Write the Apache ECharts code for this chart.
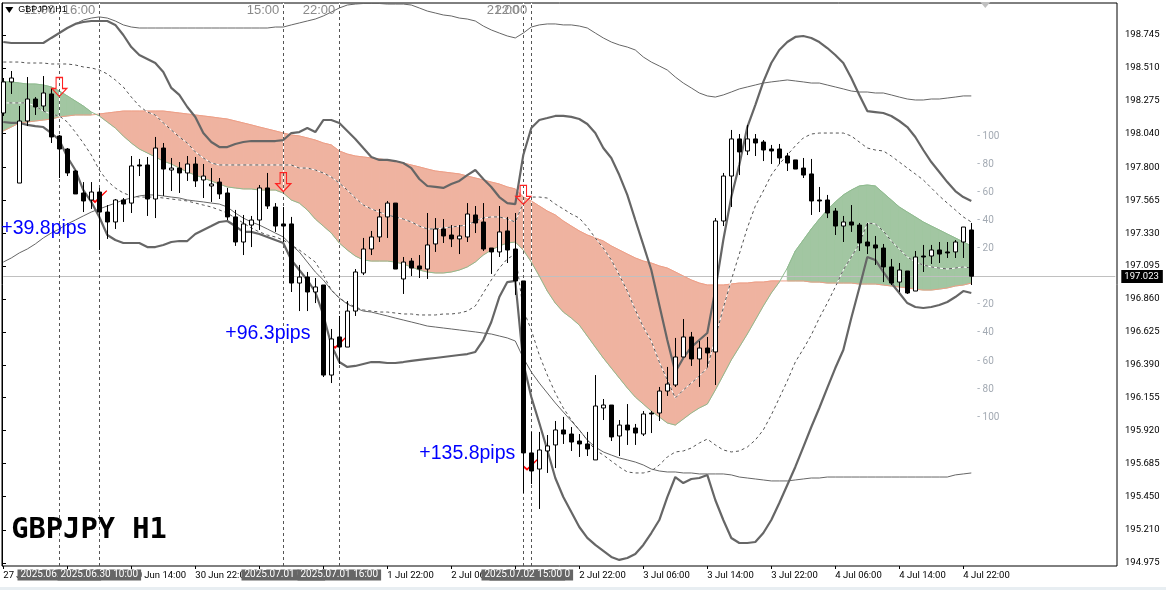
<!DOCTYPE html>
<html><head><meta charset="utf-8">
<style>html,body{margin:0;padding:0;background:linear-gradient(#fff 587px,#e8eef2 587px);}#c{width:1166px;height:590px}</style>
<script src="https://cdn.jsdelivr.net/npm/echarts@6/dist/echarts.min.js"></script>
</head><body><div id="c"></div>
<script>
const openP=[198.188,198.410,197.688,198.131,198.288,198.238,198.324,198.024,197.931,197.774,
197.617,197.567,197.624,197.481,197.410,197.567,197.545,197.817,197.817,197.574,
197.938,197.781,197.795,197.760,197.824,197.710,197.667,197.695,197.617,197.446,
197.267,197.388,197.424,197.653,197.517,197.396,197.396,196.974,197.017,196.910,
196.960,196.317,196.589,196.517,196.774,197.046,197.217,197.303,197.446,197.545,
197.003,197.131,197.096,197.074,197.253,197.360,197.317,197.289,197.303,197.460,
197.410,197.224,197.196,197.346,197.217,196.989,195.761,195.646,195.775,195.818,
195.925,195.896,195.846,195.825,195.711,196.082,196.103,195.882,195.960,195.939,
195.896,196.046,196.046,196.203,196.246,196.446,196.589,196.432,196.510,196.482,
197.417,197.738,198.003,197.917,198.003,197.981,197.931,197.931,197.881,197.853,
197.795,197.753,197.567,197.567,197.488,197.381,197.410,197.388,197.267,197.246,
197.224,197.089,196.981,197.060,196.917,197.167,197.167,197.210,197.196,197.196,
197.267,197.353];
const closeP=[198.410,198.438,198.131,198.288,198.231,198.331,198.017,197.931,197.760,197.610,
197.560,197.624,197.481,197.410,197.567,197.538,197.810,197.810,197.574,197.938,
197.788,197.795,197.760,197.824,197.703,197.738,197.681,197.610,197.446,197.267,
197.396,197.424,197.653,197.524,197.381,197.381,196.974,197.017,196.910,196.946,
196.317,196.575,196.517,196.774,197.053,197.217,197.303,197.446,197.545,197.074,
197.124,197.081,197.074,197.246,197.360,197.310,197.289,197.310,197.467,197.403,
197.217,197.196,197.339,197.210,196.989,195.761,195.632,195.782,195.811,195.925,
195.896,195.839,195.825,195.789,196.096,196.103,195.875,195.960,195.925,195.903,
196.039,196.039,196.203,196.253,196.446,196.589,196.432,196.510,196.475,197.417,
197.738,198.003,197.910,198.003,197.974,197.924,197.917,197.867,197.831,197.788,
197.745,197.560,197.560,197.474,197.381,197.410,197.388,197.260,197.239,197.224,
197.089,196.974,197.067,196.903,197.160,197.160,197.210,197.181,197.189,197.267,
197.374,197.023];
const lowP=[198.167,198.324,197.688,198.095,198.174,198.202,197.974,197.724,197.738,197.610,
197.481,197.503,197.210,197.289,197.360,197.410,197.474,197.738,197.453,197.438,
197.596,197.631,197.617,197.703,197.660,197.581,197.553,197.574,197.424,197.239,
197.174,197.231,197.353,197.503,197.339,197.267,196.910,196.774,196.774,196.831,
196.303,196.260,196.396,196.517,196.739,197.031,197.174,197.267,197.296,197.074,
196.896,197.024,197.010,197.003,197.196,197.260,197.231,197.181,197.267,197.331,
197.203,197.039,197.160,197.117,196.889,195.475,195.539,195.361,195.618,195.653,
195.825,195.775,195.732,195.739,195.711,195.996,195.846,195.739,195.818,195.818,
195.882,195.903,195.989,196.168,196.232,196.446,196.382,196.232,196.375,196.246,
197.381,197.517,197.745,197.888,197.881,197.845,197.824,197.824,197.774,197.788,
197.724,197.460,197.481,197.438,197.317,197.267,197.339,197.203,197.181,197.103,
196.981,196.960,196.910,196.896,196.917,197.053,197.110,197.117,197.153,197.153,
197.153,196.960];
const highP=[198.438,198.488,198.238,198.445,198.302,198.452,198.367,198.031,197.938,197.781,
197.695,197.695,197.653,197.531,197.574,197.581,197.881,197.860,197.874,198.017,
197.974,197.867,197.838,197.881,197.874,197.824,197.795,197.724,197.653,197.496,
197.460,197.453,197.674,197.760,197.545,197.517,197.446,197.103,197.053,197.010,
196.960,196.646,196.739,196.846,197.074,197.296,197.346,197.503,197.560,197.545,
197.160,197.153,197.174,197.474,197.438,197.431,197.388,197.388,197.545,197.524,
197.545,197.224,197.524,197.446,197.474,196.989,195.911,195.911,195.889,195.989,
196.018,195.946,195.896,195.911,196.317,196.146,196.103,195.996,196.110,195.968,
196.060,196.060,196.232,196.375,196.582,196.717,196.625,196.560,196.589,197.438,
197.760,198.067,198.038,198.103,198.038,197.995,197.960,197.967,197.903,197.853,
197.867,197.860,197.660,197.603,197.510,197.453,197.531,197.403,197.403,197.310,
197.253,197.146,197.117,197.060,197.203,197.246,197.246,197.267,197.267,197.281,
197.374,197.403];
const thickUpper=[198.695,198.688,198.688,198.688,198.688,198.688,198.724,198.759,198.795,198.824,
198.838,198.845,198.845,198.845,198.817,198.745,198.659,198.602,198.574,198.545,
198.481,198.367,198.317,198.231,198.160,198.045,197.981,197.945,197.945,197.967,
197.981,197.988,197.988,197.988,197.988,197.995,198.045,198.052,198.081,198.052,
198.138,198.138,198.117,198.060,198.003,197.938,197.874,197.853,197.853,197.845,
197.831,197.795,197.717,197.667,197.660,197.653,197.681,197.703,197.745,197.781,
197.717,197.660,197.588,197.545,197.538,197.888,198.081,198.138,198.152,198.167,
198.167,198.160,198.145,198.110,198.045,197.938,197.867,197.745,197.603,197.424,
197.246,197.067,196.817,196.567,196.339,196.439,196.517,196.567,196.617,196.924,
197.281,197.588,197.817,198.088,198.245,198.410,198.545,198.638,198.695,198.731,
198.738,198.724,198.695,198.652,198.602,198.545,198.438,198.317,198.202,198.195,
198.188,198.167,198.131,198.088,198.017,197.924,197.838,197.767,197.695,197.631,
197.588,197.560];
const thickLower=[198.124,198.117,198.117,198.103,198.095,198.088,198.045,197.995,197.874,197.781,
197.638,197.553,197.446,197.317,197.281,197.260,197.260,197.260,197.231,197.231,
197.246,197.267,197.274,197.274,197.324,197.353,197.381,197.410,197.417,197.381,
197.339,197.339,197.324,197.303,197.281,197.260,197.139,197.067,196.996,196.910,
196.746,196.532,196.410,196.375,196.382,196.396,196.410,196.410,196.403,196.403,
196.410,196.418,196.425,196.432,196.439,196.446,196.453,196.460,196.467,196.482,
196.567,196.696,196.874,196.981,196.989,196.403,196.160,195.975,195.782,195.582,
195.446,195.339,195.232,195.154,195.104,195.061,195.018,194.997,195.011,195.039,
195.104,195.189,195.282,195.446,195.589,195.546,195.575,195.582,195.604,195.425,
195.282,195.154,195.118,195.118,195.125,195.189,195.282,195.404,195.532,195.661,
195.803,195.946,196.082,196.225,196.367,196.496,196.724,196.939,197.160,197.139,
197.053,196.974,196.903,196.831,196.803,196.796,196.803,196.817,196.839,196.874,
196.917,196.903];
const thinUpper=[null,null,null,null,null,null,null,null,null,198.824,
198.852,198.866,198.874,198.866,198.845,198.817,198.802,198.795,198.795,198.795,
198.795,198.795,198.795,198.795,198.795,198.795,198.795,198.795,198.795,198.795,
198.795,198.795,198.795,198.795,198.802,198.802,198.817,198.831,198.845,198.859,
198.881,198.909,198.938,198.959,198.966,198.970,198.970,198.970,198.966,198.966,
198.966,198.959,198.938,198.916,198.902,198.888,198.881,198.866,198.859,198.845,
198.809,198.781,198.759,198.738,198.724,198.759,198.802,198.817,198.824,198.824,
198.817,198.817,198.809,198.795,198.759,198.724,198.695,198.674,198.659,198.638,
198.588,198.552,198.524,198.495,198.445,198.402,198.367,198.331,198.310,198.302,
198.317,198.338,198.360,198.374,198.388,198.402,198.410,198.417,198.424,198.417,
198.410,198.402,198.402,198.388,198.374,198.360,198.345,198.338,198.338,198.331,
198.331,198.317,198.302,198.288,198.281,198.281,198.288,198.288,198.295,198.302,
198.310,198.310];
const thinLower=[197.124,197.153,197.189,197.217,197.253,197.296,197.331,197.360,197.396,197.424,
197.453,197.481,197.503,197.524,197.545,197.567,197.581,197.596,197.603,197.603,
197.596,197.588,197.581,197.567,197.560,197.553,197.545,197.538,197.517,197.474,
197.438,197.410,197.388,197.360,197.331,197.303,197.246,197.196,197.124,197.053,
196.996,196.924,196.867,196.824,196.796,196.774,196.767,196.753,196.739,196.724,
196.710,196.696,196.682,196.667,196.660,196.653,196.646,196.639,196.632,196.625,
196.617,196.610,196.596,196.582,196.560,196.439,196.339,196.260,196.189,196.118,
196.053,195.989,195.925,195.853,195.803,195.768,195.746,195.725,195.711,195.696,
195.675,195.646,195.632,195.625,195.625,195.618,195.618,195.611,195.611,195.611,
195.611,195.604,195.589,195.582,195.575,195.568,195.561,195.561,195.561,195.568,
195.575,195.582,195.582,195.589,195.589,195.589,195.589,195.589,195.589,195.589,
195.589,195.589,195.589,195.589,195.589,195.589,195.589,195.589,195.589,195.604,
195.611,195.618];
const dashUpper=[198.552,198.552,198.552,198.545,198.545,198.545,198.538,198.538,198.538,198.531,
198.517,198.510,198.495,198.467,198.424,198.374,198.302,198.238,198.195,198.174,
198.117,198.067,198.017,197.974,197.910,197.867,197.831,197.817,197.817,197.817,
197.817,197.817,197.817,197.817,197.817,197.817,197.817,197.795,197.795,197.781,
197.760,197.731,197.688,197.638,197.581,197.531,197.503,197.481,197.460,197.446,
197.431,197.410,197.381,197.360,197.360,197.367,197.374,197.381,197.388,197.417,
197.438,197.446,197.446,197.431,197.410,197.545,197.588,197.588,197.581,197.538,
197.503,197.467,197.438,197.374,197.296,197.224,197.139,197.031,196.917,196.782,
196.660,196.560,196.410,196.282,196.153,196.210,196.260,196.310,196.367,196.582,
196.796,196.996,197.181,197.367,197.524,197.631,197.745,197.824,197.888,197.953,
198.010,198.038,198.045,198.045,198.045,198.045,198.024,197.981,197.938,197.924,
197.917,197.881,197.838,197.795,197.753,197.710,197.653,197.596,197.545,197.496,
197.446,197.410];
const dashLower=[198.260,198.260,198.260,198.260,198.238,198.202,198.181,198.167,198.124,198.052,
197.974,197.888,197.781,197.703,197.653,197.617,197.596,197.588,197.588,197.588,
197.581,197.574,197.567,197.560,197.545,197.531,197.517,197.496,197.474,197.438,
197.403,197.367,197.339,197.317,197.303,197.281,197.246,197.210,197.167,197.124,
197.031,196.924,196.867,196.831,196.803,196.782,196.774,196.767,196.767,196.760,
196.753,196.753,196.746,196.746,196.746,196.753,196.753,196.760,196.774,196.810,
196.903,196.996,197.081,197.146,197.181,196.782,196.639,196.460,196.317,196.189,
196.082,195.996,195.925,195.853,195.782,195.746,195.703,195.661,195.625,195.618,
195.618,195.632,195.675,195.732,195.768,195.775,195.796,195.832,195.860,195.818,
195.782,195.768,195.775,195.803,195.853,195.925,196.032,196.153,196.275,196.410,
196.503,196.603,196.724,196.831,196.946,197.067,197.160,197.253,197.403,197.396,
197.346,197.274,197.217,197.160,197.124,197.103,197.089,197.081,197.074,197.081,
197.089,197.081];
const spanS=[198.060,198.088,198.117,198.124,198.131,198.138,198.145,198.160,198.167,198.174,
198.174,198.174,198.181,198.188,198.195,198.202,198.202,198.202,198.202,198.202,
198.202,198.195,198.188,198.181,198.174,198.167,198.160,198.152,198.145,198.131,
198.117,198.103,198.088,198.074,198.060,198.045,198.031,198.024,198.010,197.995,
197.974,197.960,197.917,197.895,197.881,197.874,197.867,197.860,197.853,197.845,
197.831,197.817,197.803,197.788,197.774,197.767,197.760,197.753,197.738,197.724,
197.710,197.695,197.681,197.660,197.646,197.588,197.560,197.524,197.488,197.460,
197.417,197.381,197.346,197.317,197.296,197.274,197.239,197.210,197.181,197.153,
197.131,197.117,197.096,197.081,197.053,197.024,196.996,196.974,196.960,196.960,
196.960,196.967,196.974,196.974,196.981,196.981,196.989,196.989,196.989,196.989,
196.989,196.981,196.981,196.974,196.974,196.974,196.974,196.967,196.967,196.967,
196.960,196.953,196.946,196.939,196.931,196.924,196.924,196.931,196.939,196.953,
196.960,196.974];
const spanG=[198.410,198.410,198.402,198.395,198.395,198.388,198.374,198.345,198.310,198.274,
198.238,198.195,198.167,198.124,198.081,198.024,197.974,197.931,197.903,197.874,
197.845,197.824,197.795,197.767,197.745,197.724,197.703,197.681,197.660,197.653,
197.646,197.646,197.638,197.638,197.638,197.617,197.567,197.545,197.496,197.431,
197.381,197.331,197.260,197.210,197.167,197.139,197.131,197.131,197.131,197.124,
197.110,197.089,197.067,197.053,197.046,197.046,197.053,197.067,197.089,197.124,
197.174,197.210,197.239,197.260,197.267,197.210,197.124,197.024,196.917,196.831,
196.767,196.724,196.674,196.596,196.517,196.439,196.367,196.296,196.225,196.160,
196.110,196.060,196.018,195.975,195.960,196.003,196.046,196.082,196.110,196.210,
196.317,196.425,196.517,196.610,196.710,196.810,196.903,196.981,197.081,197.203,
197.281,197.360,197.431,197.496,197.553,197.603,197.638,197.667,197.674,197.667,
197.617,197.567,197.517,197.481,197.446,197.410,197.381,197.353,197.324,197.296,
197.267,197.239];

const tickLabels=['27 Jun 22:00','30 Jun 06:00','30 Jun 14:00','30 Jun 22:00','1 Jul 06:00','1 Jul 14:00','1 Jul 22:00','2 Jul 06:00','2 Jul 14:00','2 Jul 22:00','3 Jul 06:00','3 Jul 14:00','3 Jul 22:00','4 Jul 06:00','4 Jul 14:00','4 Jul 22:00'];
const priceTicks=[198.745,198.510,198.275,198.040,197.800,197.565,197.330,197.095,196.860,196.625,196.390,196.155,195.920,195.685,195.450,195.210,194.975];
const lastPrice=197.023;
const markerBars=[7,12,35,42,66,65];
const markerTimes=['2025.06.30 05:00','2025.06.30 10:00','2025.07.01 09:00','2025.07.01 16:00','2025.07.02 16:00','2025.07.02 15:00'];
const markerTop=['11:00','16:00','15:00','22:00','22:00','21:00'];
const arrowBars=[7,35,65];
const arrowPrices=[198.374,197.695,197.603];
const checkBars=[12,42,66];
const checkPrices=[197.590,196.550,195.680];
const pipBars=[0,28,52];
const pipPrices=[197.360,196.610,195.754];
const pipShift=[-2,-2,0];
const pipTexts=['+39.8pips','+96.3pips','+135.8pips'];
const scaleTexts=['- 100','- 80','- 60','- 40','- 20','- 20','- 40','- 60','- 80','- 100'];
const scalePrices=[198.021,197.821,197.621,197.421,197.221,196.821,196.621,196.415,196.215,196.015];
const yMin=194.9537,yMax=198.9735;

const gridBox={left:2,top:3,width:1115,height:563};
const cats=Array.from({length:140},(_,i)=>i%8===0&&i/8<tickLabels.length?tickLabels[i/8]:'');
const showTick=i=>i%8===0&&i/8<tickLabels.length;
const FONT='Roboto';

function line(data,color,width,dash,z){return {type:'line',xAxisIndex:1,yAxisIndex:1,data,showSymbol:false,silent:true,z:z||3,connectNulls:false,
  lineStyle:{color,width,type:dash||'solid'}};}
function textSeries(points,style,z){return {type:'scatter',xAxisIndex:1,yAxisIndex:1,clip:false,silent:true,z:z||20,symbolSize:0,
  itemStyle:{opacity:1},
  data:points.map(p=>({value:[p[0],p[1]],name:p[2],label:p[3]||{}})),
  label:Object.assign({show:true,opacity:1,position:'right',distance:0,formatter:d=>d.name},style)};}

const cloudRows=spanG.map((g,i)=>[i,g,spanS[i]]);
function renderCloud(params,api){
  const i=api.value(0); if(i>=spanG.length-1) return null;
  const g=spanG[i],s=spanS[i],g2=spanG[i+1],s2=spanS[i+1];
  let fill=null;
  if(g>s&&g2>s2) fill='#A2C6A2'; else if(g<s&&g2<s2) fill='#EFB3A0'; else return null;
  const pts=[api.coord([i,g]),api.coord([i+1,g2]),api.coord([i+1,s2]),api.coord([i,s])];
  return {type:'polygon',shape:{points:pts},style:{fill,stroke:fill,lineWidth:1}};
}

const option={
  animation:false,backgroundColor:'transparent',
  grid:[
    Object.assign({show:true,backgroundColor:'#fff',borderColor:'#000',borderWidth:1,z:0},gridBox),
    {left:3.3,top:3,width:1112,height:563}
  ],
  xAxis:[
    {gridIndex:0,type:'value',show:false,min:0,max:1},
    {gridIndex:1,type:'category',data:cats,boundaryGap:false,
     axisLine:{show:false},splitLine:{show:false},
     axisTick:{show:true,length:3,interval:(i)=>showTick(i),lineStyle:{color:'#000'}},
     axisLabel:{show:true,interval:(i)=>showTick(i),align:'left',margin:5,color:'#000',fontSize:9.5,fontFamily:FONT,hideOverlap:false}}
  ],
  yAxis:[
    {gridIndex:0,type:'value',position:'right',min:yMin,max:yMax,
     axisLine:{show:true,lineStyle:{color:'#000'}},splitLine:{show:false},
     axisTick:{show:true,length:4,inside:false,customValues:priceTicks,lineStyle:{color:'#000'}},
     axisLabel:{show:true,margin:8,color:'#000',fontSize:9.5,fontFamily:FONT,padding:[2,0,0,0],customValues:priceTicks,formatter:v=>v.toFixed(3)}},
    {gridIndex:1,type:'value',show:false,min:yMin,max:yMax}
  ],
  series:[
    {type:'custom',xAxisIndex:1,yAxisIndex:1,data:cloudRows,renderItem:renderCloud,encode:{x:0,y:[1,2]},silent:true,z:1,clip:true},
    line(spanS,'#EE9F87',1,null,2),
    line(spanG,'#8FBB8F',1,null,2),
    line(dashUpper,'#fff',1,null,2),
    line(dashLower,'#fff',1,null,2),
    line(thickUpper,'#666',2.2),
    line(thickLower,'#666',2.2),
    line(thinUpper,'#666',1),
    line(thinLower,'#666',1),
    line(dashUpper,'#555',1,[3,3]),
    line(dashLower,'#555',1,[3,3]),
    {type:'line',xAxisIndex:1,yAxisIndex:1,data:[],z:2,silent:true,
     markLine:{silent:true,symbol:'none',label:{show:false},z:2,lineStyle:{color:'#fff',width:1,type:'solid'},data:markerBars.map(b=>({xAxis:b}))}},
    {type:'line',xAxisIndex:1,yAxisIndex:1,data:[],z:3,silent:true,
     markLine:{silent:true,symbol:'none',label:{show:false},z:3,lineStyle:{color:'#555',width:1,type:[3,3]},data:markerBars.map(b=>({xAxis:b}))}},
    {type:'line',xAxisIndex:1,yAxisIndex:1,data:[],z:2,silent:true,
     markLine:{silent:true,symbol:'none',z:2,lineStyle:{color:'#c0c0c0',width:1,type:'solid'},
       label:{show:true,position:'end',distance:6,color:'#fff',backgroundColor:'#000',padding:[2,4,1,3],fontSize:9.5,fontFamily:FONT,formatter:()=>lastPrice.toFixed(3)},
       data:[{yAxis:lastPrice}]}},
    {type:'scatter',xAxisIndex:1,yAxisIndex:1,silent:true,z:6,symbol:'path://M0 9 L4 13 L16 0 L17 1 L4 16 L0 12 Z',symbolSize:[16,13],
     itemStyle:{color:'#f00',opacity:1},data:checkBars.map((b,i)=>[b,checkPrices[i]])},
    {type:'candlestick',xAxisIndex:1,yAxisIndex:1,barWidth:5,silent:true,z:7,clip:true,
     itemStyle:{color:'#fff',color0:'#000',borderColor:'#000',borderColor0:'#000',borderWidth:1},
     data:openP.map((o,i)=>[o,closeP[i],lowP[i],highP[i]])},
    {type:'scatter',xAxisIndex:1,yAxisIndex:1,silent:true,z:8,symbol:'path://M4 0H10V11H14L7 19L0 11H4Z',symbolSize:[15,19],
     itemStyle:{color:'transparent',borderColor:'#f22',borderWidth:1.2,opacity:1},data:arrowBars.map((b,i)=>[b,arrowPrices[i]])},
    {type:'scatter',xAxisIndex:1,yAxisIndex:1,silent:true,z:8,clip:false,symbol:'triangle',symbolRotate:180,symbolSize:[8,6],symbolOffset:[-2,0],itemStyle:{color:'#000',opacity:1},data:[[1,198.924]]},
    {type:'scatter',xAxisIndex:1,yAxisIndex:1,silent:true,z:8,clip:false,symbol:'triangle',symbolRotate:180,symbolSize:[10,6],symbolOffset:[-2,0],itemStyle:{color:'#c0c0c0',opacity:1},data:[[123,198.960]]},
    textSeries(markerBars.map((b,i)=>[b,198.924,markerTop[i]]),{position:'left',distance:4,color:'#8a8a8a',fontSize:13,fontFamily:'Liberation Sans'}),
    textSeries([[1,198.924,'GBPJPY,H1',{offset:[7,0]}]],{color:'#000',fontSize:9,fontFamily:'Liberation Sans'},21),
    textSeries(pipBars.map((b,i)=>[b,pipPrices[i],pipTexts[i],{offset:[pipShift[i],0]}]),{color:'#0000ff',fontSize:19.5,fontFamily:'Liberation Sans'}),
    textSeries(scalePrices.map((p,i)=>[122,p,scaleTexts[i],{offset:[-2,0]}]),{color:'#a3aab3',fontSize:10,fontFamily:FONT}),
    textSeries([[1,195.204,'GBPJPY H1']],{color:'#000',fontSize:28.7,fontWeight:'bold',fontFamily:'DejaVu Sans Mono'}),
    textSeries(markerBars.map((b,i)=>[b,194.890,markerTimes[i]]),{position:'inside',color:'#fff',backgroundColor:'#666',padding:[1,3,0,3],fontSize:10,fontFamily:FONT},30)
  ]
};
echarts.init(document.getElementById('c')).setOption(option);
</script></body></html>
